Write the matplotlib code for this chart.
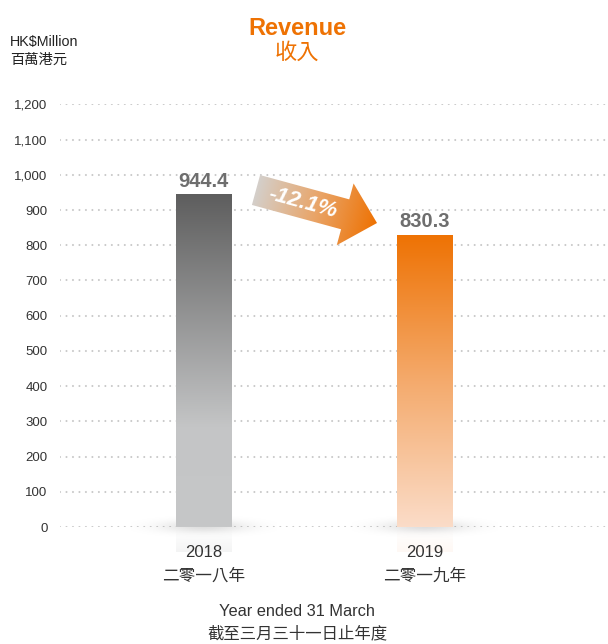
import matplotlib
matplotlib.use('Agg')
import matplotlib.pyplot as plt
import numpy as np
from matplotlib.colors import LinearSegmentedColormap, to_rgb
from matplotlib.patches import Polygon

plt.rcParams['font.family'] = ['Liberation Sans', 'Noto Sans CJK TC', 'DejaVu Sans']

years = ['2018', '2019']
years_zh = ['二零一八年', '二零一九年']
revenue = [944.4, 830.3]
change_label = '-12.1%'
yticks = list(range(0, 1300, 100))

ORANGE = '#ee7203'
W, H = 608, 644

fig = plt.figure(figsize=(W / 100, H / 100), dpi=100)
ax = fig.add_axes([60 / W, 117 / H, (W - 60) / W, 422.6 / H])

for s in ax.spines.values():
    s.set_visible(False)
ax.tick_params(axis='both', length=0)
ax.set_xticks([])
ax.set_yticks(yticks)
ax.set_yticklabels(['{:,}'.format(v) for v in yticks], fontsize=9.5, color='#333333')
ax.tick_params(axis='y', pad=9)
for v in yticks:
    ax.axhline(v, color='#c8c8c8', lw=1.5, ls=(0, (0.01, 3.1)),
               dash_capstyle='round', zorder=0)

# bars with vertical gradients
bottoms = ['#c6c7c8', '#fbdcc8']
cmaps = [
    LinearSegmentedColormap.from_list('g', [(0, '#c6c7c8'), (0.3, '#c4c5c6'), (1, '#5e5e5e')]),
    LinearSegmentedColormap.from_list('o', [(0, '#fbdcc8'), (0.5, '#f4aa6c'), (1, ORANGE)]),
]
width = 0.25
grad = np.linspace(0, 1, 256).reshape(-1, 1)
for i, v in enumerate(revenue):
    bar = ax.bar(i, v, width=width, color='none', zorder=2)[0]
    im = ax.imshow(grad, cmap=cmaps[i], origin='lower', aspect='auto',
                   extent=(i - width / 2, i + width / 2, 0, v), zorder=2)
    im.set_clip_path(bar)
    ax.text(i, v + 10, '{:.1f}'.format(v), ha='center', va='bottom',
            fontsize=14.5, fontweight='bold', color='#6e6e6e')

    # soft shadow under the bar
    xx, yy = np.meshgrid(np.linspace(-1, 1, 200), np.linspace(-1, 1, 60))
    alpha = np.exp(-(xx ** 2 * 3.0 + yy ** 2 * 4.0)) * 0.13
    rgba = np.zeros((60, 200, 4))
    rgba[..., 3] = alpha
    ax.imshow(rgba, extent=(i - 0.33, i + 0.33, -35, 35), aspect='auto',
              zorder=1, clip_on=False, interpolation='bilinear')

    # faint reflection below the baseline
    refl = np.zeros((60, 2, 4))
    refl[..., :3] = to_rgb(bottoms[i])
    refl[..., 3] = np.linspace(0.2, 0, 60).reshape(-1, 1)
    ax.imshow(refl, extent=(i - width / 2, i + width / 2, -5, -70), aspect='auto',
              zorder=1, clip_on=False, interpolation='bilinear')
ax.set_xlim(-0.65, 1.83)
ax.set_ylim(0, 1200)

# x labels
for i, (yr, zh) in enumerate(zip(years, years_zh)):
    ax.text(i, -72, yr, ha='center', va='center', fontsize=12, color='#333333')
    ax.text(i, -140, zh, ha='center', va='center', fontsize=12, color='#333333')

# overlay axes in pixel coordinates for titles and arrow
ov = fig.add_axes([0, 0, 1, 1])
ov.set_xlim(0, W)
ov.set_ylim(H, 0)
ov.axis('off')

ov.text(297, 28, 'Revenue', ha='center', va='center', fontsize=17,
        fontweight='bold', color=ORANGE)
ov.text(297, 53, '收入', ha='center', va='center', fontsize=16, color=ORANGE)
ov.text(10, 42, 'HK$Million', ha='left', va='center', fontsize=10.3, color='#222222')
ov.text(10, 60, '百萬港元', ha='left', va='center', fontsize=10.3, color='#222222')
ov.text(297, 612, 'Year ended 31 March', ha='center', va='center',
        fontsize=11.8, color='#333333')
ov.text(297, 634, '截至三月三十一日止年度', ha='center', va='center',
        fontsize=11.8, color='#333333')

# gradient arrow between the bars
tail = np.array([256.0, 190.0])
tip = np.array([377.0, 223.0])
d = tip - tail
L = np.hypot(*d)
u = d / L
n = np.array([u[1], -u[0]])
sw, hw, hl = 15.5, 32.0, 33.0
base = tip - u * hl
pts = [tail + n * sw, base + n * sw, base + n * hw, tip,
       base - n * hw, base - n * sw, tail - n * sw]
arrow = Polygon(pts, closed=True, facecolor='none', edgecolor='none')
ov.add_patch(arrow)
x0, x1 = 240, 390
y0, y1 = 160, 260
gx, gy = np.meshgrid(np.linspace(x0, x1, 300), np.linspace(y0, y1, 200))
t = ((gx - tail[0]) * u[0] + (gy - tail[1]) * u[1]) / L
t = np.clip(t, 0, 1)
acmap = LinearSegmentedColormap.from_list('a', ['#d4cfca', '#e9a569', ORANGE])
aim = ov.imshow(t, cmap=acmap, extent=(x0, x1, y1, y0), aspect='auto',
                zorder=3, vmin=0, vmax=1)
aim.set_clip_path(arrow)
ang = -np.degrees(np.arctan2(d[1], d[0]))
mid = tail + u * 48
ov.text(mid[0], mid[1], change_label, ha='center', va='center', rotation=ang,
        fontsize=16, fontweight='bold', fontstyle='italic', color='white', zorder=4)

fig.savefig('out.png', dpi=100)
